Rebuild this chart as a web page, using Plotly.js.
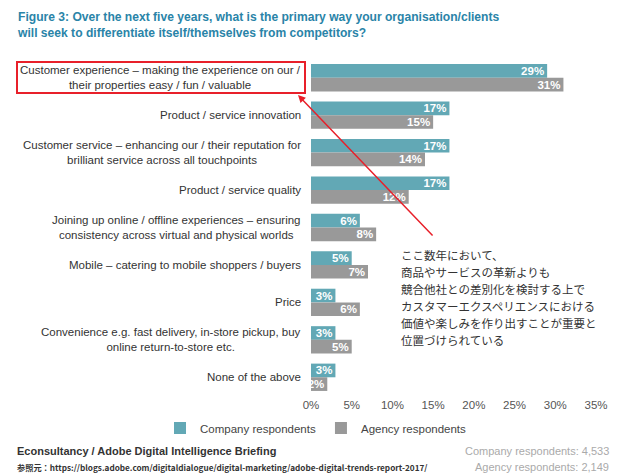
<!DOCTYPE html>
<html>
<head>
<meta charset="utf-8">
<script src="https://cdn.plot.ly/plotly-3.0.1.min.js"></script>
<style>
  body { margin: 0; background: #fff; }
  #chart { width: 620px; height: 476px; }
</style>
</head>
<body>
<div id="chart"></div>
<script>
// survey answers, top to bottom
const categories = [
  "Customer experience – making the experience on our /<br>their properties easy / fun / valuable",
  "Product / service innovation",
  "Customer service – enhancing our / their reputation for<br>brilliant service across all touchpoints",
  "Product / service quality",
  "Joining up online / offline experiences – ensuring<br>consistency across virtual and physical worlds",
  "Mobile – catering to mobile shoppers / buyers",
  "Price",
  "Convenience e.g. fast delivery, in-store pickup, buy<br>online return-to-store etc.",
  "None of the above",
];
const companyValues = [29, 17, 17, 17, 6, 5, 3, 3, 3];
const agencyValues = [31, 15, 14, 12, 8, 7, 6, 5, 2];
const xTicks = [0, 5, 10, 15, 20, 25, 30, 35];
const xTickLabels = xTicks.map((v) => v + "%");

const noteLines = [
  "ここ数年において、",
  "商品やサービスの革新よりも",
  "競合他社との差別化を検討する上で",
  "カスタマーエクスペリエンスにおける",
  "価値や楽しみを作り出すことが重要と",
  "位置づけられている",
];

// plot area in px: left 311, right 596, top 59, bottom 396
const L = 311, R = 596, T = 59, B = 396;
const px = (x) => (x - L) / (R - L);
const py = (y) => (B - y) / (B - T);

const sans = "Liberation Sans, Arial, sans-serif";
const barText = { color: "#ffffff", size: 11.5, family: sans, weight: "bold" };

const traces = [
  {
    type: "bar",
    orientation: "h",
    name: "Company respondents",
    y: categories,
    x: companyValues,
    text: companyValues.map((v) => v + "%"),
    marker: { color: "#62a8b5" },
    textposition: "inside",
    insidetextanchor: "end",
    constraintext: "none",
    textfont: barText,
    hoverinfo: "skip",
  },
  {
    type: "bar",
    orientation: "h",
    name: "Agency respondents",
    y: categories,
    x: agencyValues,
    text: agencyValues.map((v) => v + "%"),
    marker: { color: "#999999" },
    textposition: "inside",
    insidetextanchor: "end",
    constraintext: "none",
    textfont: barText,
    hoverinfo: "skip",
  },
];

const annotations = [];

// title
annotations.push({
  xref: "paper", yref: "paper",
  x: px(15), y: py(8),
  xanchor: "left", yanchor: "top",
  align: "left",
  text: "<b>Figure 3: Over the next five years, what is the primary way your organisation/clients<br>will seek to differentiate itself/themselves from competitors?</b>",
  showarrow: false,
  font: { size: 12.1, color: "#2a84a8", family: sans },
});

// category labels, centred lines like the original
categories.forEach((c) => {
  annotations.push({
    xref: "paper", yref: "y",
    x: px(303), y: c,
    xanchor: "right", yanchor: "middle",
    align: "center",
    text: c,
    showarrow: false,
    font: { size: 11.5, color: "#333333", family: sans },
  });
});

// japanese note
noteLines.forEach((t, i) => {
  annotations.push({
    xref: "paper", yref: "paper",
    x: px(399), y: py(255 + i * 17),
    xanchor: "left", yanchor: "middle",
    align: "left",
    text: t,
    showarrow: false,
    font: { size: 11.5, color: "#333333", family: "Noto Sans CJK JP, sans-serif" },
  });
});

// red arrow pointing at the highlighted answer
annotations.push({
  xref: "paper", yref: "paper",
  x: px(298), y: py(95),
  axref: "pixel", ayref: "pixel",
  ax: 136, ay: 142,
  text: "",
  showarrow: true,
  arrowhead: 2,
  arrowsize: 1,
  arrowwidth: 1.5,
  arrowcolor: "#e8202a",
});

// footer
annotations.push(
  {
    xref: "paper", yref: "paper",
    x: px(15), y: py(451),
    xanchor: "left", yanchor: "middle",
    text: "<b>Econsultancy / Adobe Digital Intelligence Briefing</b>",
    showarrow: false,
    font: { size: 11, color: "#333333", family: sans },
  },
  {
    xref: "paper", yref: "paper",
    x: px(15), y: py(467),
    xanchor: "left", yanchor: "middle",
    text: "<b>参照元：https://blogs.adobe.com/digitaldialogue/digital-marketing/adobe-digital-trends-report-2017/</b>",
    showarrow: false,
    font: { size: 8.2, color: "#333333", family: "Noto Sans CJK JP, sans-serif" },
  },
  {
    xref: "paper", yref: "paper",
    x: px(611), y: py(451),
    xanchor: "right", yanchor: "middle",
    text: "Company respondents: 4,533",
    showarrow: false,
    font: { size: 11, color: "#aaaaaa", family: sans },
  },
  {
    xref: "paper", yref: "paper",
    x: px(611), y: py(467),
    xanchor: "right", yanchor: "middle",
    text: "Agency respondents: 2,149",
    showarrow: false,
    font: { size: 11, color: "#aaaaaa", family: sans },
  }
);

const layout = {
  width: 620,
  height: 476,
  margin: { l: L, r: 620 - R, t: T, b: 476 - B, pad: 0 },
  paper_bgcolor: "#ffffff",
  plot_bgcolor: "#ffffff",
  font: { family: sans, color: "#333333" },
  barmode: "group",
  bargap: 0.27,
  bargroupgap: 0,
  showlegend: true,
  // below and left of the plot area so the legend may run wide in one row
  legend: {
    orientation: "h",
    x: px(160), xanchor: "left",
    y: py(428), yanchor: "middle",
    bgcolor: "rgba(0,0,0,0)",
    font: { size: 11.5, color: "#444444" },
    traceorder: "normal",
    itemwidth: 30,
  },
  xaxis: {
    range: [0, 35],
    tickvals: xTicks,
    ticktext: xTickLabels,
    showgrid: false,
    zeroline: false,
    showline: false,
    ticks: "",
    tickfont: { size: 11.5, color: "#555555" },
    fixedrange: true,
  },
  yaxis: {
    autorange: "reversed",
    showticklabels: false,
    showgrid: false,
    zeroline: false,
    showline: false,
    ticks: "",
    fixedrange: true,
  },
  shapes: [
    {
      type: "rect",
      xref: "paper", yref: "paper",
      x0: px(17), x1: px(305),
      y0: py(93), y1: py(62),
      line: { color: "#e8202a", width: 2 },
    },
  ],
  annotations: annotations,
};

Plotly.newPlot("chart", traces, layout, { displayModeBar: false, staticPlot: true });
</script>
</body>
</html>
